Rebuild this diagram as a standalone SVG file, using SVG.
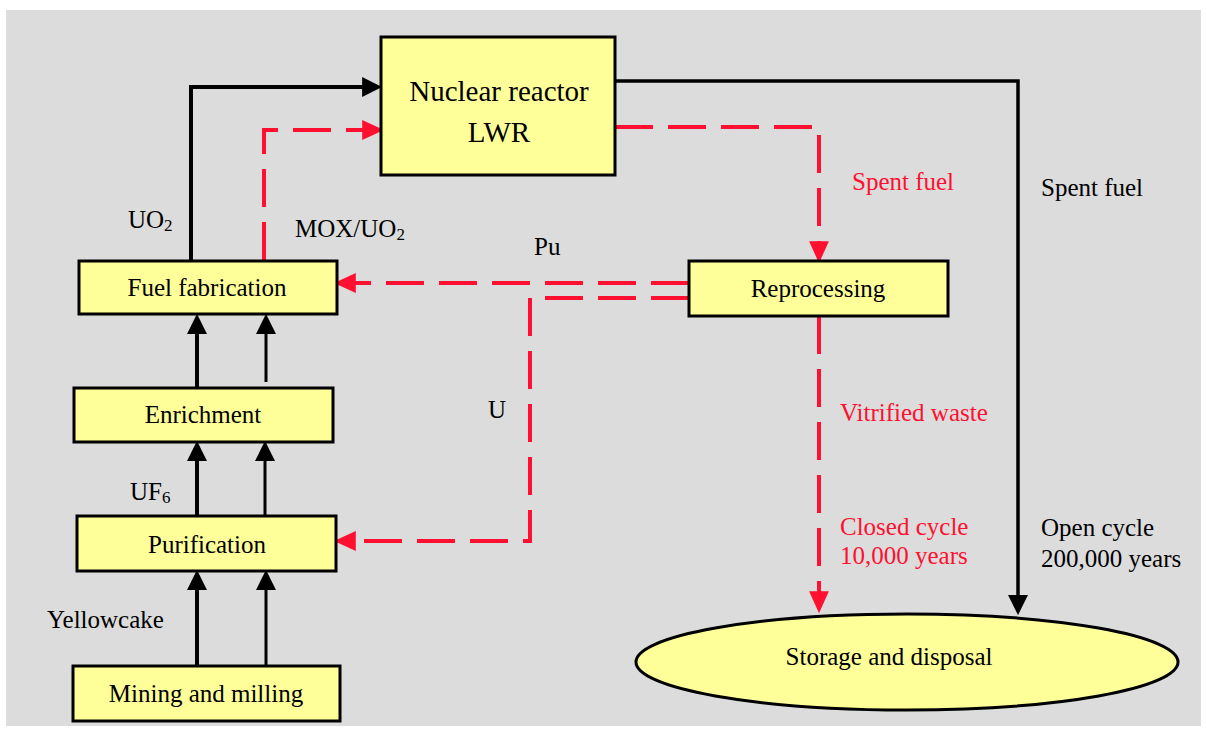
<svg xmlns="http://www.w3.org/2000/svg" width="1207" height="731" viewBox="0 0 1207 731">
<style>
.box{fill:#ffff99;stroke:#000;stroke-width:3}
.t{font-family:"Liberation Serif","Times New Roman",serif;font-size:25px;fill:#000}
.big{font-size:29px}
.c{text-anchor:middle}
.r{fill:#ff1030}
.blk{fill:none;stroke:#000}
.red{fill:none;stroke:#ff1030;stroke-width:4;stroke-dasharray:38 15}
</style>
<defs>
<marker id="ab" markerUnits="userSpaceOnUse" markerWidth="20" markerHeight="20" viewBox="0 0 18 18" refX="8" refY="9" orient="auto">
<path d="M0,0 L18,9 L0,18 z" fill="#000"/>
</marker>
<marker id="ar" markerUnits="userSpaceOnUse" markerWidth="22" markerHeight="20" viewBox="0 0 20 18" refX="8" refY="9" orient="auto">
<path d="M0,0 L20,9 L0,18 z" fill="#ff1030"/>
</marker>
</defs>
<rect x="6" y="10" width="1195" height="716" fill="#dcdcdc"/>

<g id="connectors">
<path class="blk" stroke-width="4" d="M191,260 V87 H371" marker-end="url(#ab)"/>
<path class="blk" stroke-width="3.5" d="M615,81 H1018 V604" marker-end="url(#ab)"/>
<path class="red" d="M264,260 V130 H371" marker-end="url(#ar)"/>
<path class="red" d="M615,127 H819 V250" marker-end="url(#ar)"/>
<path class="red" d="M819,316 V600" marker-end="url(#ar)"/>
<path class="red" d="M689,283 H347" marker-end="url(#ar)"/>
<path class="red" d="M689,298 H530 V541 H347" marker-end="url(#ar)"/>
<path class="blk" stroke-width="4" d="M197,387 V325" marker-end="url(#ab)"/>
<path class="blk" stroke-width="3" d="M266,382 V325" marker-end="url(#ab)"/>
<path class="blk" stroke-width="4" d="M197,515 V452" marker-end="url(#ab)"/>
<path class="blk" stroke-width="3" d="M265,515 V452" marker-end="url(#ab)"/>
<path class="blk" stroke-width="4" d="M197,665 V581" marker-end="url(#ab)"/>
<path class="blk" stroke-width="3" d="M266,665 V581" marker-end="url(#ab)"/>
</g>

<g id="reactor">
<rect class="box" x="381" y="37" width="234" height="138"/>
<text class="t c big" x="499" y="101">Nuclear reactor</text>
<text class="t c big" x="499" y="142">LWR</text>
</g>
<g id="fuel-fabrication">
<rect class="box" x="79" y="261" width="258" height="53"/>
<text class="t c" x="207" y="296">Fuel fabrication</text>
</g>
<g id="enrichment">
<rect class="box" x="74" y="388" width="259" height="54"/>
<text class="t c" x="203" y="423">Enrichment</text>
</g>
<g id="purification">
<rect class="box" x="77" y="516" width="259" height="55"/>
<text class="t c" x="207" y="553">Purification</text>
</g>
<g id="mining">
<rect class="box" x="73" y="666" width="267" height="55"/>
<text class="t c" x="206" y="702">Mining and milling</text>
</g>
<g id="reprocessing">
<rect class="box" x="689" y="261" width="259" height="55"/>
<text class="t c" x="818" y="297">Reprocessing</text>
</g>
<g id="storage">
<ellipse class="box" cx="907" cy="662" rx="271" ry="48"/>
<text class="t c" x="889" y="665">Storage and disposal</text>
</g>

<g id="labels">
<text class="t" x="128" y="228">UO<tspan font-size="17" dy="3">2</tspan></text>
<text class="t" x="295" y="237">MOX/UO<tspan font-size="17" dy="3">2</tspan></text>
<text class="t" x="534" y="255">Pu</text>
<text class="t" x="488" y="418">U</text>
<text class="t" x="130" y="500">UF<tspan font-size="17" dy="3">6</tspan></text>
<text class="t" x="47" y="628">Yellowcake</text>
<text class="t r" x="852" y="190">Spent fuel</text>
<text class="t" x="1041" y="196">Spent fuel</text>
<text class="t r" x="840" y="421">Vitrified waste</text>
<text class="t r" x="840" y="535">Closed cycle</text>
<text class="t r" x="840" y="564">10,000 years</text>
<text class="t" x="1041" y="536">Open cycle</text>
<text class="t" x="1041" y="567">200,000 years</text>
</g>
</svg>
